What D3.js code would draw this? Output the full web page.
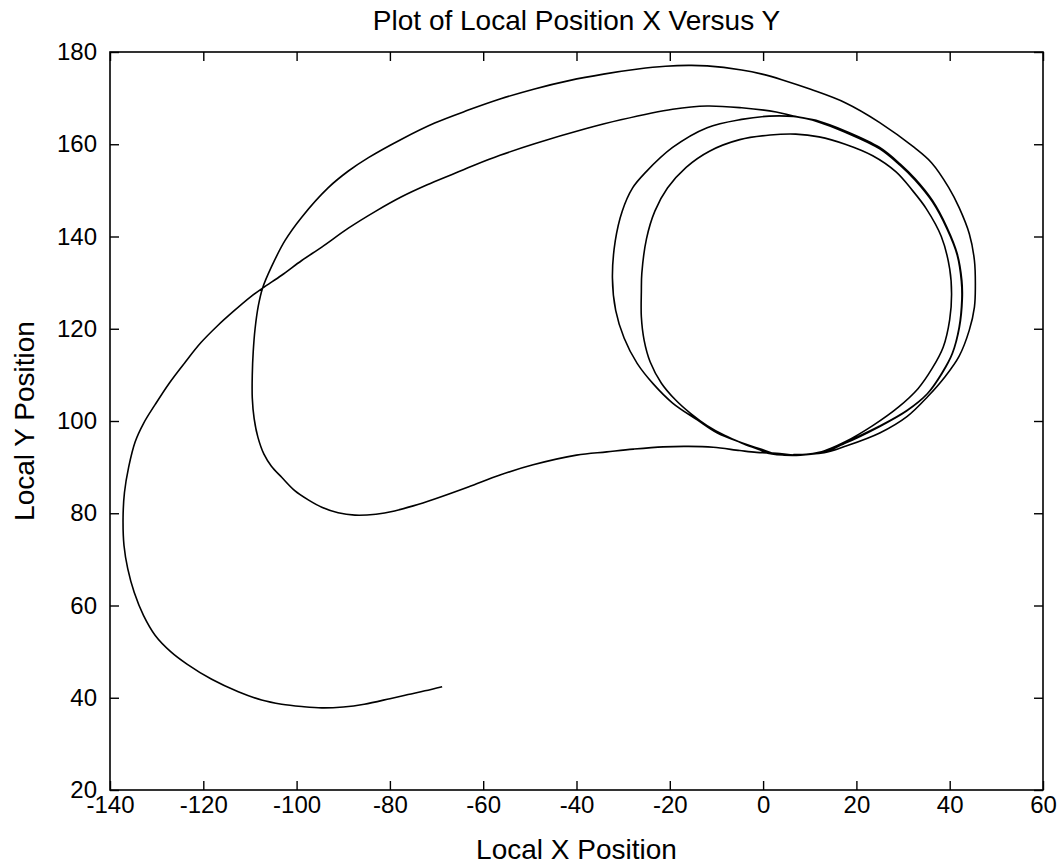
<!DOCTYPE html>
<html>
<head>
<meta charset="utf-8">
<script src="https://cdn.jsdelivr.net/npm/d3@7"></script>
<style>
  html, body { margin: 0; padding: 0; background: #fff; }
  svg { display: block; }
  text { font-family: "Liberation Sans", Arial, sans-serif; fill: #000; }
</style>
</head>
<body>
<svg id="chart" width="1062" height="864"></svg>
<script>
// Vehicle ground track in the local frame, in order of travel
const localX = [
  -68.8, -72.5, -76.1, -80.0, -85.5, -90.0, -94.6, -98.9, -103.2, -107.5, -112.5, -118.2, -123.5, -127.0, -130.3, -132.8,
  -134.8, -136.2, -137.0, -137.2, -136.9, -136.0, -134.6, -132.8, -130.3, -127.3, -124.0, -120.5, -117.0, -113.5, -110.0, -107.3,
  -103.2, -98.9, -94.6, -88.9, -83.0, -77.5, -72.0, -66.8, -61.8, -56.4, -49.0, -37.9, -30.5, -19.4, -12.0, -4.6, 2.8, 6.5,
  12.0, 17.6, 25.0, 29.4, 32.6, 36.3, 39.4, 41.6, 42.6, 42.7, 42.1, 40.6, 38.4, 35.3, 31.0, 25.0, 17.6, 13.9, 8.0, 3.0, -0.2,
  -4.6, -9.8, -14.2, -19.4, -23.5, -27.0, -29.8, -31.6, -32.3, -31.7, -30.2, -28.0, -25.3, -19.4, -12.0, -4.6, 1.3, 6.5,
  12.0, 17.6, 25.0, 29.4, 32.6, 36.3, 39.4, 41.6, 42.5, 42.6, 42.0, 40.5, 38.2, 35.1, 30.8, 24.8, 17.4, 12.0, 6.0, 1.0, -0.9,
  -4.5, -8.3, -12.0, -15.5, -18.8, -21.8, -24.2, -25.5, -26.1, -26.1, -26.0, -25.0, -23.2, -20.5, -16.5, -11.5, -5.0, 1.5, 7.0, 12.0,
  17.6, 23.5, 28.5, 32.0, 35.0, 38.2, 40.0, 40.4, 40.0, 38.6, 36.3, 33.2, 29.0, 23.5, 17.6, 12.4, 7.0, 2.9, -1.4,
  -5.0, -10.7, -16.0, -21.4, -27.8, -33.5, -40.0, -49.3, -56.4, -63.2, -70.4, -75.0, -79.0, -83.0, -87.5,
  -91.1, -94.6, -97.5, -100.4, -103.2, -105.4, -107.0, -108.3, -109.1, -109.5, -109.5, -109.3, -108.9, -108.2, -107.3,
  -105.4, -102.5, -98.9, -93.2, -88.9, -84.6, -77.5, -70.4, -63.2, -56.4, -49.0, -41.6, -34.2, -26.8, -20.9, -16.0, -12.0, -4.6, -0.2, 4.0,
  10.2, 17.6, 25.0, 32.4, 36.1, 39.8, 42.0, 44.2, 45.3, 45.5, 45.3, 44.2, 42.0, 39.0, 35.3, 30.9, 25.0, 17.6, 13.1, 6.5
];
const localY = [
  42.4, 41.5, 40.7, 39.8, 38.6, 38.0, 37.8, 38.1, 38.6, 39.5, 41.3, 44.0, 47.3, 50.0, 53.5, 57.8,
  62.8, 68.0, 73.0, 79.0, 84.5, 90.0, 95.5, 99.5, 103.6, 108.2, 112.6, 117.0, 120.6, 123.8, 126.8, 128.8,
  131.6, 134.8, 137.7, 141.8, 145.5, 148.6, 151.2, 153.4, 155.5, 157.6, 160.1, 163.4, 165.3, 167.6, 168.3, 167.9, 167.0, 166.1,
  165.0, 162.9, 159.3, 155.7, 152.5, 147.8, 142.0, 136.3, 130.5, 126.5, 120.4, 114.7, 110.4, 106.0, 102.4, 98.9, 95.3, 93.5, 92.6, 92.8, 93.8,
  95.3, 97.4, 100.3, 103.9, 108.0, 112.5, 118.0, 124.0, 131.0, 139.0, 145.5, 150.5, 153.8, 159.3, 163.6, 165.4, 166.1, 166.0,
  164.8, 162.6, 159.0, 155.4, 152.2, 147.5, 141.7, 136.0, 130.3, 126.3, 120.2, 114.5, 110.2, 105.8, 102.2, 98.7, 95.1, 93.2, 92.6, 93.0, 93.8,
  95.2, 96.9, 99.0, 101.6, 104.6, 108.2, 112.8, 117.5, 122.6, 128.0, 132.0, 139.5, 145.5, 150.5, 155.0, 158.5, 161.0, 162.0, 162.2, 161.6,
  160.0, 157.5, 154.0, 150.0, 146.0, 140.0, 133.0, 127.5, 122.0, 116.0, 111.5, 107.0, 103.0, 99.0, 95.5, 93.3, 92.6, 93.0, 93.2,
  93.6, 94.3, 94.5, 94.4, 93.9, 93.3, 92.6, 90.5, 88.3, 85.7, 83.1, 81.6, 80.5, 79.8, 79.6,
  80.1, 81.3, 82.9, 84.9, 87.8, 90.2, 92.8, 96.5, 100.5, 105.0, 110.0, 115.0, 120.0, 125.0, 128.8,
  133.4, 139.1, 144.2, 150.6, 154.2, 157.1, 161.1, 164.6, 167.4, 169.8, 172.0, 173.8, 175.2, 176.3, 176.9, 177.1, 177.0, 176.1, 175.2, 174.0,
  171.9, 169.0, 164.7, 159.3, 156.0, 150.6, 146.3, 140.6, 134.8, 129.1, 124.7, 119.7, 114.0, 109.6, 105.3, 101.0, 97.4, 94.5, 93.1, 92.7
];

const xDomain = [-140, 60];
const yDomain = [20, 180];
const xTicks = [-140, -120, -100, -80, -60, -40, -20, 0, 20, 40, 60];
const yTicks = [20, 40, 60, 80, 100, 120, 140, 160, 180];

const chartTitle = "Plot of Local Position X Versus Y";
const xLabel = "Local X Position";
const yLabel = "Local Y Position";

const plotLeft = 110, plotRight = 1043, plotTop = 52, plotBottom = 790;
const tickLen = 9;
const tickFont = "24px";
const labelFont = "28px";

const svg = d3.select("#chart");
const x = d3.scaleLinear().domain(xDomain).range([plotLeft, plotRight]);
const y = d3.scaleLinear().domain(yDomain).range([plotBottom, plotTop]);

const track = d3.zip(localX, localY);

// trajectory
svg.append("path")
  .datum(track)
  .attr("fill", "none")
  .attr("stroke", "#000")
  .attr("stroke-width", 1.6)
  .attr("stroke-linejoin", "round")
  .attr("d", d3.line().x(d => x(d[0])).y(d => y(d[1])).curve(d3.curveCatmullRom.alpha(0.5)));

// axes: labelled bottom/left, inward ticks on all four sides
function styleAxis(g) {
  g.select(".domain").remove();
  g.selectAll(".tick line").attr("stroke", "#000").attr("stroke-width", 1.4);
  g.selectAll(".tick text").style("font-size", tickFont).attr("fill", "#000");
}

svg.append("g")
  .attr("transform", `translate(0,${plotBottom})`)
  .call(d3.axisBottom(x).tickValues(xTicks).tickSizeInner(-tickLen).tickSizeOuter(0).tickPadding(6)
    .tickFormat(d => d < 0 ? "-" + Math.abs(d) : String(d)))
  .call(styleAxis);

svg.append("g")
  .attr("transform", `translate(0,${plotTop})`)
  .call(d3.axisTop(x).tickValues(xTicks).tickSizeInner(-tickLen).tickSizeOuter(0).tickFormat(""))
  .call(styleAxis);

svg.append("g")
  .attr("transform", `translate(${plotLeft},0)`)
  .call(d3.axisLeft(y).tickValues(yTicks).tickSizeInner(-tickLen).tickSizeOuter(0).tickPadding(13).tickFormat(d3.format("d")))
  .call(styleAxis);

svg.append("g")
  .attr("transform", `translate(${plotRight},0)`)
  .call(d3.axisRight(y).tickValues(yTicks).tickSizeInner(-tickLen).tickSizeOuter(0).tickFormat(""))
  .call(styleAxis);

// frame
svg.append("rect")
  .attr("x", plotLeft).attr("y", plotTop)
  .attr("width", plotRight - plotLeft).attr("height", plotBottom - plotTop)
  .attr("fill", "none").attr("stroke", "#000").attr("stroke-width", 1.6);

// titles
svg.append("text")
  .attr("x", (plotLeft + plotRight) / 2).attr("y", 30)
  .attr("text-anchor", "middle").style("font-size", labelFont)
  .text(chartTitle);

svg.append("text")
  .attr("x", (plotLeft + plotRight) / 2).attr("y", 859)
  .attr("text-anchor", "middle").style("font-size", labelFont)
  .text(xLabel);

svg.append("text")
  .attr("transform", `translate(34,${(plotTop + plotBottom) / 2}) rotate(-90)`)
  .attr("text-anchor", "middle").style("font-size", labelFont)
  .text(yLabel);
</script>
</body>
</html>
